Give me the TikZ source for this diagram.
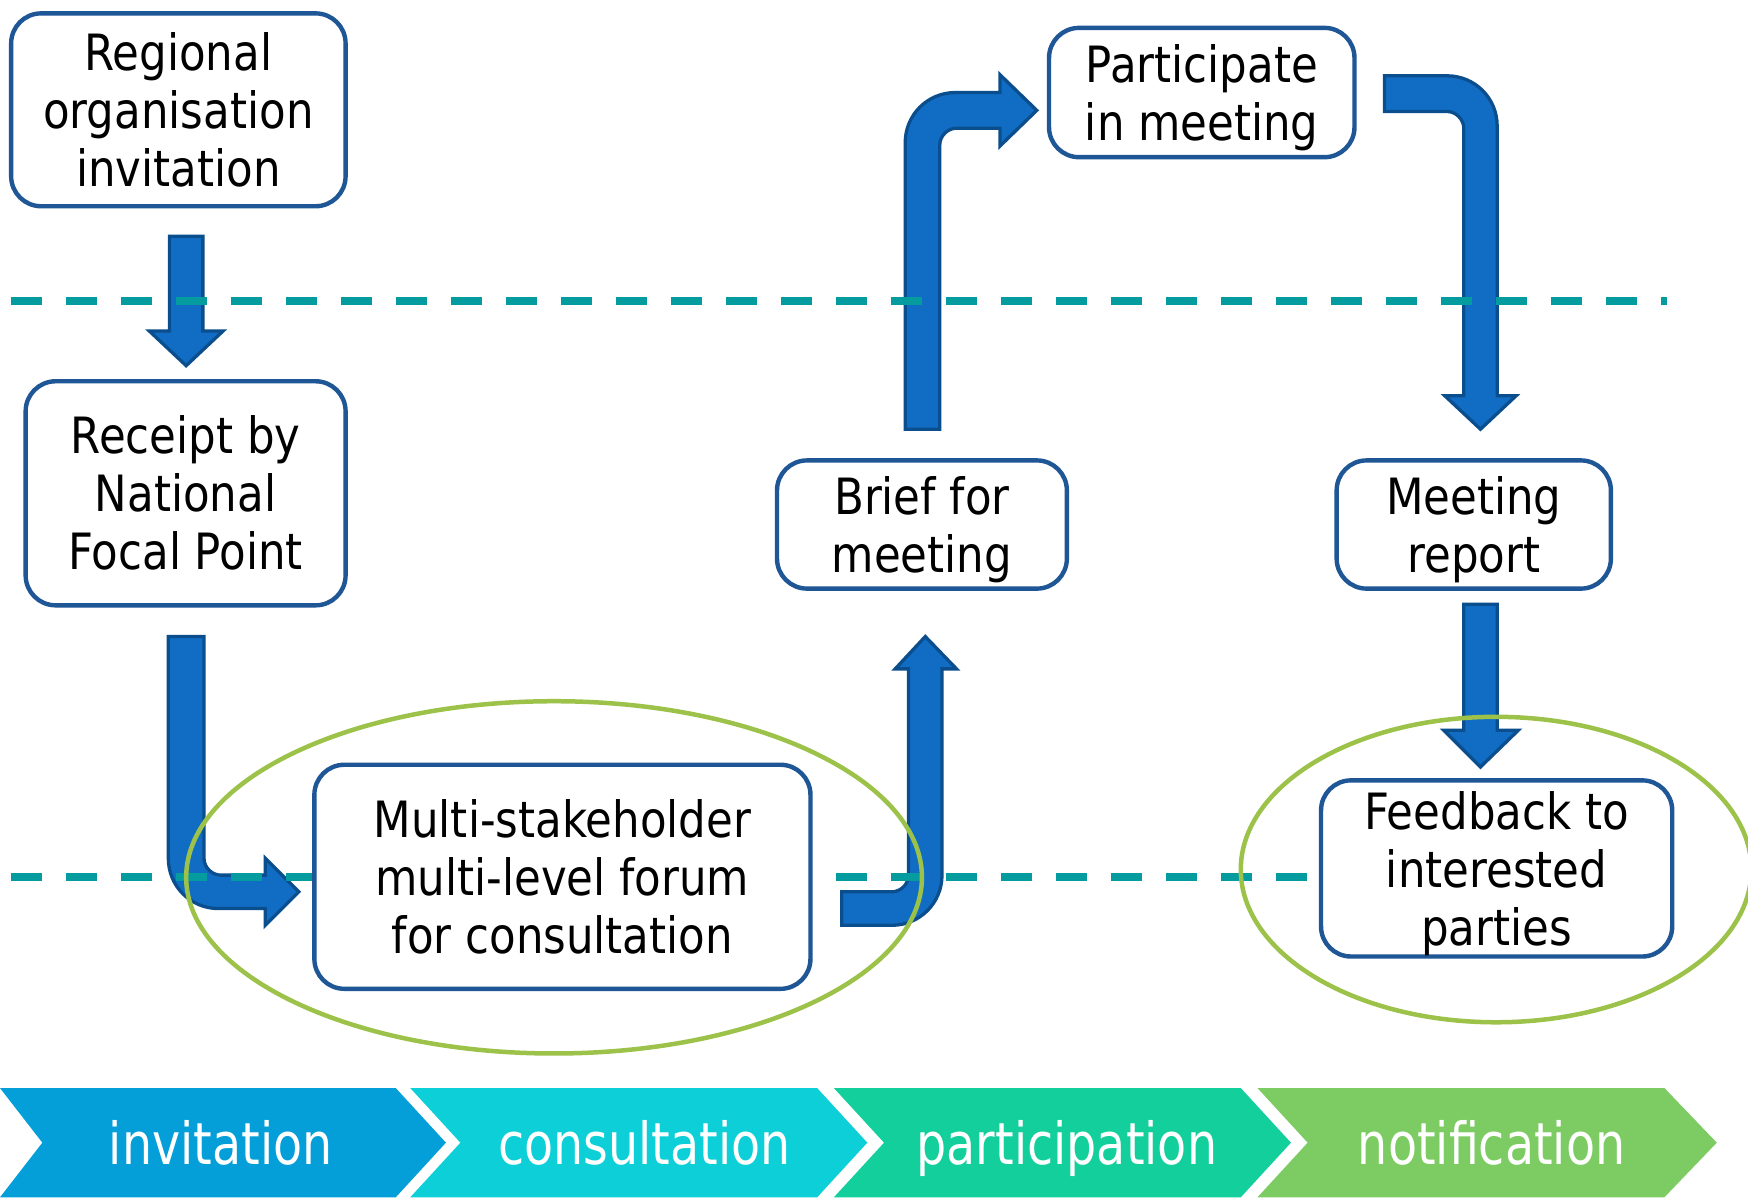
\documentclass[tikz,border=0pt]{standalone}
\usepackage{fontspec}
\usetikzlibrary{shapes.geometric}
\newfontfamily\boxfont{DejaVu Sans}[FakeStretch=0.87]
\newfontfamily\chevfont{DejaVu Sans}[FakeStretch=0.82]
\definecolor{boxblue}{HTML}{1F5696}
\definecolor{arrowfill}{HTML}{116DC4}
\definecolor{arrowline}{HTML}{0B4E8E}
\definecolor{dashteal}{HTML}{049C9E}
\definecolor{ringgreen}{HTML}{9DC24A}
\definecolor{chevA}{HTML}{049ED8}
\definecolor{chevB}{HTML}{0DCFD8}
\definecolor{chevC}{HTML}{12CF9B}
\definecolor{chevD}{HTML}{7DCB63}
\tikzset{
  box/.style 2 args={draw=boxblue, fill=white, line width=4.4pt, rounded corners=30pt,
    minimum width=#1*1.1148pt, minimum height=#2*1.1148pt, inner sep=0pt, align=center,
    font=\boxfont\fontsize{50}{58}\selectfont},
  blockarrow/.style={fill=arrowfill, draw=arrowline, line width=3.3pt, line join=miter},
  divider/.style={draw=dashteal, line width=7.8pt, dash pattern=on 31pt off 24pt},
  ring/.style 2 args={draw=ringgreen, ellipse, line width=4.5pt, inner sep=0pt,
    minimum width=#1*1.1148pt, minimum height=#2*1.1148pt},
  chevtext/.style={text=white, font=\chevfont\fontsize{58}{60}\selectfont, inner sep=0pt, anchor=base}
}
\begin{document}
\begin{tikzpicture}[x=1.1148pt, y=-1.1148pt]
\useasboundingbox (0,0) rectangle (1568,1074);
\fill[white] (0,0) rectangle (1568,1074);

% block arrows
\draw[blockarrow] (152,212) -- (182,212) -- (182,297) -- (200,297) -- (167,328) -- (134,297) -- (152,297) -- cycle;
\draw[blockarrow] (151,571) -- (183,571) -- (183,770) .. controls (183,778) and (190,785) .. (198,785) -- (238,785) -- (238,770) -- (268,800) -- (238,830) -- (238,815) -- (196,815) .. controls (171,815) and (151,795) .. (151,770) -- cycle;
\draw[blockarrow] (755,800) -- (800,800) .. controls (808,800) and (815,793) .. (815,785) -- (815,600) -- (803,600) -- (830,571) -- (858,600) -- (845,600) -- (845,785) .. controls (845,810) and (825,830) .. (800,830) -- (755,830) -- cycle;
\draw[blockarrow] (812,385) -- (812,128) .. controls (812,103) and (832,83) .. (857,83) -- (897,83) -- (897,67) -- (930,99) -- (897,131) -- (897,115) -- (858,115) .. controls (850,115) and (843,122) .. (843,130) -- (843,385) -- cycle;
\draw[blockarrow] (1242,68) -- (1298,68) .. controls (1323,68) and (1343,88) .. (1343,113) -- (1343,355) -- (1360,355) -- (1328,385) -- (1296,355) -- (1313,355) -- (1313,115) .. controls (1313,107) and (1306,100) .. (1298,100) -- (1242,100) -- cycle;
\draw[blockarrow] (1313,542) -- (1343,542) -- (1343,655) -- (1362,655) -- (1328,688) -- (1295,655) -- (1313,655) -- cycle;

% dividers
\coordinate (d1a) at (10,270); \coordinate (d1b) at (1495,270);
\coordinate (d2a) at (10,787); \coordinate (d2b) at (1495,787);
\draw[divider] (d1a) -- (d1b);
\draw[divider] (d2a) -- (d2b);

% boxes
\node[box={300}{173}] (b1) at (160,98.5) {Regional\\organisation\\invitation};
\node[box={287}{201}] (b2) at (166.5,442.5) {Receipt by\\National\\Focal Point};
\node[box={445}{201}] (b3) at (504.5,786.5) {Multi-stakeholder\\multi-level forum\\for consultation};
\node[box={260}{115}] (b4) at (827,470.5) {Brief for\\\smash{meeting}};
\node[box={274}{116}] (b5) at (1078,83) {Participate\\\smash{in meeting}};
\node[box={246}{115}] (b6) at (1322,470.5) {Meeting\\\smash{report}};
\node[box={315}{158}] (b7) at (1342.5,779) {Feedback to\\interested\\\smash{parties}};

% rings
\node[ring={660}{316}] (e1) at (497,787) {};
\node[ring={458}{274}] (e2) at (1342,780) {};

% chevrons
\fill[chevA] (0,976) -- (355,976) -- (400,1025) -- (355,1074) -- (0,1074) -- (38,1025) -- cycle;
\fill[chevB] (368,976) -- (733,976) -- (778,1025) -- (733,1074) -- (368,1074) -- (413,1025) -- cycle;
\fill[chevC] (748,976) -- (1113,976) -- (1158,1025) -- (1113,1074) -- (748,1074) -- (793,1025) -- cycle;
\fill[chevD] (1128,976) -- (1493,976) -- (1540,1025) -- (1493,1074) -- (1128,1074) -- (1173,1025) -- cycle;
\node[chevtext] (c1) at (198,1045) {invitation};
\node[chevtext] (c2) at (578,1045) {consultation};
\node[chevtext] (c3) at (957,1045) {participation};
\node[chevtext] (c4) at (1338,1045) {notification};
\end{tikzpicture}
\end{document}
